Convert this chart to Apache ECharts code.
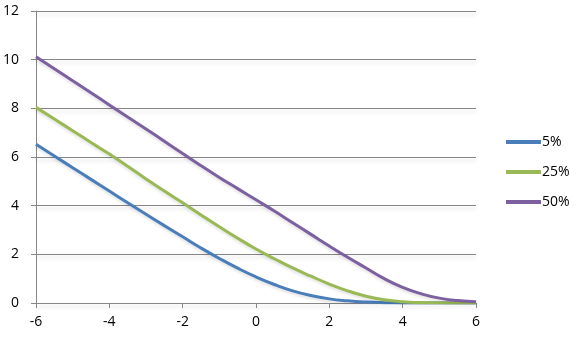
<!DOCTYPE html>
<html>
<head>
<meta charset="utf-8">
<script src="https://cdn.jsdelivr.net/npm/echarts@6/dist/echarts.min.js"></script>
<style>
html,body{margin:0;padding:0;background:#fff;}
#chart{width:576px;height:338px;}
</style>
</head>
<body>
<div id="chart"></div>
<script>
const xValues = [-6,-5.5,-5,-4.5,-4,-3.5,-3,-2.5,-2,-1.5,-1,-0.5,0,0.5,1,1.5,2,2.5,3,3.5,4,4.5,5,5.5,6];
const p5  = [6.52,6.04,5.56,5.08,4.60,4.12,3.65,3.18,2.72,2.26,1.83,1.43,1.07,0.76,0.50,0.31,0.17,0.09,0.04,0.015,0.005,0,0,0,0];
const p25 = [8.04,7.56,7.08,6.60,6.12,5.62,5.10,4.60,4.12,3.62,3.13,2.66,2.22,1.82,1.44,1.10,0.78,0.50,0.28,0.13,0.05,0.02,0.01,0,0];
const p50 = [10.12,9.63,9.13,8.64,8.14,7.64,7.15,6.65,6.14,5.64,5.16,4.70,4.24,3.78,3.30,2.82,2.34,1.88,1.44,1.00,0.64,0.38,0.20,0.10,0.05];
const seriesNames = ['5%','25%','50%'];
const seriesColors = ['#4A7EBB','#98B954','#7D60A0'];
const xTicks = {min:-6, max:6, step:2};
const yTicks = {min:0, max:12, step:2};

const allData = [p5, p25, p50];
const font = '"Open Sans", "DejaVu Sans", sans-serif';
const axisGray = '#868686';

const chart = echarts.init(document.getElementById('chart'), null, {renderer:'canvas'});
chart.setOption({
  animation:false,
  backgroundColor:'#ffffff',
  grid:{left:36, top:11, right:100, bottom:35, containLabel:false},
  legend:{
    orient:'vertical', left:506, top:135, itemGap:16, padding:0,
    itemWidth:35, itemHeight:4, icon:'rect',
    textStyle:{fontFamily:font, fontSize:14, color:'#000', lineHeight:14, padding:[0,0,0,-4]},
    data:seriesNames
  },
  xAxis:{
    type:'value', min:xTicks.min, max:xTicks.max, interval:xTicks.step,
    axisLine:{show:true, onZero:false, lineStyle:{color:axisGray, width:1}},
    axisTick:{show:true, length:5, lineStyle:{color:axisGray}},
    axisLabel:{fontFamily:font, fontSize:14, color:'#000', margin:12},
    splitLine:{show:false}
  },
  yAxis:{
    type:'value', min:yTicks.min, max:yTicks.max, interval:yTicks.step,
    axisLine:{show:true, onZero:false, lineStyle:{color:axisGray, width:1}},
    axisTick:{show:true, length:5, lineStyle:{color:axisGray}},
    axisLabel:{fontFamily:font, fontSize:14, color:'#000', margin:17},
    splitLine:{show:true, lineStyle:{color:axisGray, width:1, shadowColor:'rgba(0,0,0,0.18)', shadowBlur:4, shadowOffsetY:3}}
  },
  series: seriesNames.map((name,i)=>({
    name:name, type:'line', smooth:0.5, showSymbol:false, symbol:'none',
    data: xValues.map((x,j)=>[x, allData[i][j]]),
    lineStyle:{color:seriesColors[i], width:3, shadowColor:'rgba(0,0,0,0.12)', shadowBlur:3, shadowOffsetY:2},
    itemStyle:{color:seriesColors[i]},
    z: 3+i
  }))
});
</script>
</body>
</html>
